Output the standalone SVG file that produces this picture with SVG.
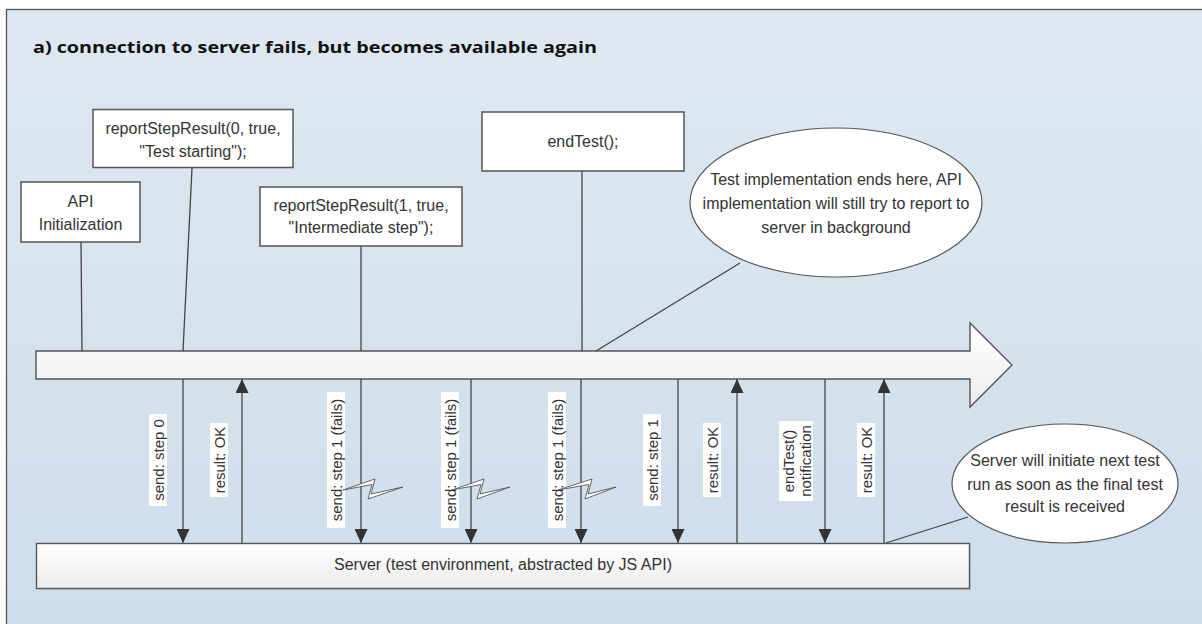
<svg xmlns="http://www.w3.org/2000/svg" width="1202" height="624" viewBox="0 0 1202 624">
<defs>
<linearGradient id="bg" x1="0" y1="0" x2="0" y2="1">
<stop offset="0" stop-color="#dfe8f1"/>
<stop offset="1" stop-color="#cbdcea"/>
</linearGradient>
<linearGradient id="bar" x1="0" y1="0" x2="0" y2="1">
<stop offset="0" stop-color="#ffffff"/>
<stop offset="1" stop-color="#ececec"/>
</linearGradient>
<marker id="ah" viewBox="0 0 14 13" refX="14" refY="6.5" markerWidth="14" markerHeight="13" markerUnits="userSpaceOnUse" orient="auto">
<path d="M0,0 L14,6.5 L0,13 z" fill="#333"/>
</marker>
<style>
.box{fill:#fff;stroke:#555;stroke-width:1.5}
.ell{fill:#fff;stroke:#555;stroke-width:1.2}
.t{font-family:"Liberation Sans",Arial,sans-serif;font-size:16px;fill:#333;text-anchor:middle}
.vl{font-family:"Liberation Sans",Arial,sans-serif;font-size:15px;fill:#333;text-anchor:middle;dominant-baseline:central}
.ln{stroke:#444;stroke-width:1.3;fill:none}
.arr{stroke:#444;stroke-width:1.3;fill:none;marker-end:url(#ah)}
.lbg{fill:#fff}
.bolt{fill:#fff;stroke:#555;stroke-width:0.9;stroke-linejoin:miter}
</style>
</defs>
<rect x="0" y="0" width="1202" height="624" fill="#ffffff"/>
<rect x="6.5" y="9.5" width="1300" height="700" fill="url(#bg)" stroke="#555" stroke-width="1.3"/>
<text x="33" y="53" font-family="'Open Sans','Liberation Sans',sans-serif" font-weight="bold" font-size="16" fill="#111" textLength="564" lengthAdjust="spacingAndGlyphs">a) connection to server fails, but becomes available again</text>

<g id="timeline">
<polygon points="36,351 970,351 970,323 1012,365 970,407 970,379 36,379" fill="url(#bar)" stroke="#555" stroke-width="1.4"/>
</g>

<g id="connectors">
<line class="ln" x1="81" y1="242" x2="82" y2="351"/>
<line class="ln" x1="192" y1="168" x2="183" y2="351"/>
<line class="ln" x1="361" y1="246" x2="361" y2="351"/>
<line class="ln" x1="582" y1="171" x2="582" y2="351"/>
<line class="ln" x1="740" y1="263" x2="596" y2="351"/>
<line class="ln" x1="968" y1="517" x2="886" y2="543"/>

<line class="arr" x1="183" y1="379" x2="183" y2="543"/>
<line class="arr" x1="242" y1="543" x2="242" y2="379"/>
<line class="arr" x1="361" y1="379" x2="361" y2="543"/>
<line class="arr" x1="471" y1="379" x2="471" y2="543"/>
<line class="arr" x1="581" y1="379" x2="581" y2="543"/>
<line class="arr" x1="678" y1="379" x2="678" y2="543"/>
<line class="arr" x1="737" y1="543" x2="737" y2="379"/>
<line class="arr" x1="825" y1="379" x2="825" y2="543"/>
<line class="arr" x1="884" y1="543" x2="884" y2="379"/>

<rect class="lbg" x="149" y="414" width="18" height="92"/>
<text class="vl" transform="translate(158,460) rotate(-90)">send: step 0</text>
<rect class="lbg" x="210" y="423" width="18" height="74"/>
<text class="vl" transform="translate(219,460) rotate(-90)">result: OK</text>
<rect class="lbg" x="327" y="392" width="18" height="136"/>
<text class="vl" transform="translate(336,460) rotate(-90)">send: step 1 (fails)</text>
<rect class="lbg" x="441" y="392" width="18" height="136"/>
<text class="vl" transform="translate(450,460) rotate(-90)">send: step 1 (fails)</text>
<rect class="lbg" x="548" y="392" width="18" height="136"/>
<text class="vl" transform="translate(557,460) rotate(-90)">send: step 1 (fails)</text>
<rect class="lbg" x="643" y="414" width="18" height="92"/>
<text class="vl" transform="translate(652,460) rotate(-90)">send: step 1</text>
<rect class="lbg" x="703" y="423" width="18" height="74"/>
<text class="vl" transform="translate(712,460) rotate(-90)">result: OK</text>
<rect class="lbg" x="779" y="421" width="34" height="80"/>
<text class="vl" transform="translate(788,461) rotate(-90)">endTest()</text>
<text class="vl" transform="translate(805,461) rotate(-90)">notification</text>
<rect class="lbg" x="857" y="423" width="18" height="74"/>
<text class="vl" transform="translate(866,460) rotate(-90)">result: OK</text>

<polygon class="bolt" points="343,490 375,479 371,494 403,487 368,499 372,484.5"/>
<polygon class="bolt" points="452,490 484,479 480,494 510,487 477,499 481,484.5"/>
<polygon class="bolt" points="558,490 592,479 588,494 616,487 585,499 589,484.5"/>
</g>

<g id="api-init">
<rect class="box" x="21" y="182" width="119" height="60"/>
<text class="t" x="80.5" y="207">API</text>
<text class="t" x="80.5" y="229.5">Initialization</text>
</g>

<g id="report-step-0">
<rect class="box" x="93" y="109.5" width="200" height="58"/>
<text class="t" x="193" y="134">reportStepResult(0, true,</text>
<text class="t" x="193" y="157">"Test starting");</text>
</g>

<g id="report-step-1">
<rect class="box" x="260" y="187" width="202" height="59"/>
<text class="t" x="361" y="210.5">reportStepResult(1, true,</text>
<text class="t" x="361" y="233">"Intermediate step");</text>
</g>

<g id="end-test">
<rect class="box" x="482" y="112" width="202" height="59"/>
<text class="t" x="583" y="147">endTest();</text>
</g>

<g id="note-test-ends">
<ellipse class="ell" cx="836" cy="202.5" rx="146" ry="74.5"/>
<text class="t" x="836" y="185">Test implementation ends here, API</text>
<text class="t" x="836" y="209">implementation will still try to report to</text>
<text class="t" x="836" y="233">server in background</text>
</g>

<g id="note-server">
<ellipse class="ell" cx="1065" cy="483.5" rx="113" ry="59.5"/>
<text class="t" x="1065" y="466">Server will initiate next test</text>
<text class="t" x="1065" y="489.5">run as soon as the final test</text>
<text class="t" x="1065" y="512">result is received</text>
</g>

<g id="server">
<rect x="38" y="545" width="933" height="45" fill="#9aa8b4" opacity="0.35"/>
<rect x="36.5" y="543.5" width="933" height="45" fill="url(#bar)" stroke="#555" stroke-width="1.4"/>
<text class="t" x="503" y="570">Server (test environment, abstracted by JS API)</text>
</g>
</svg>
